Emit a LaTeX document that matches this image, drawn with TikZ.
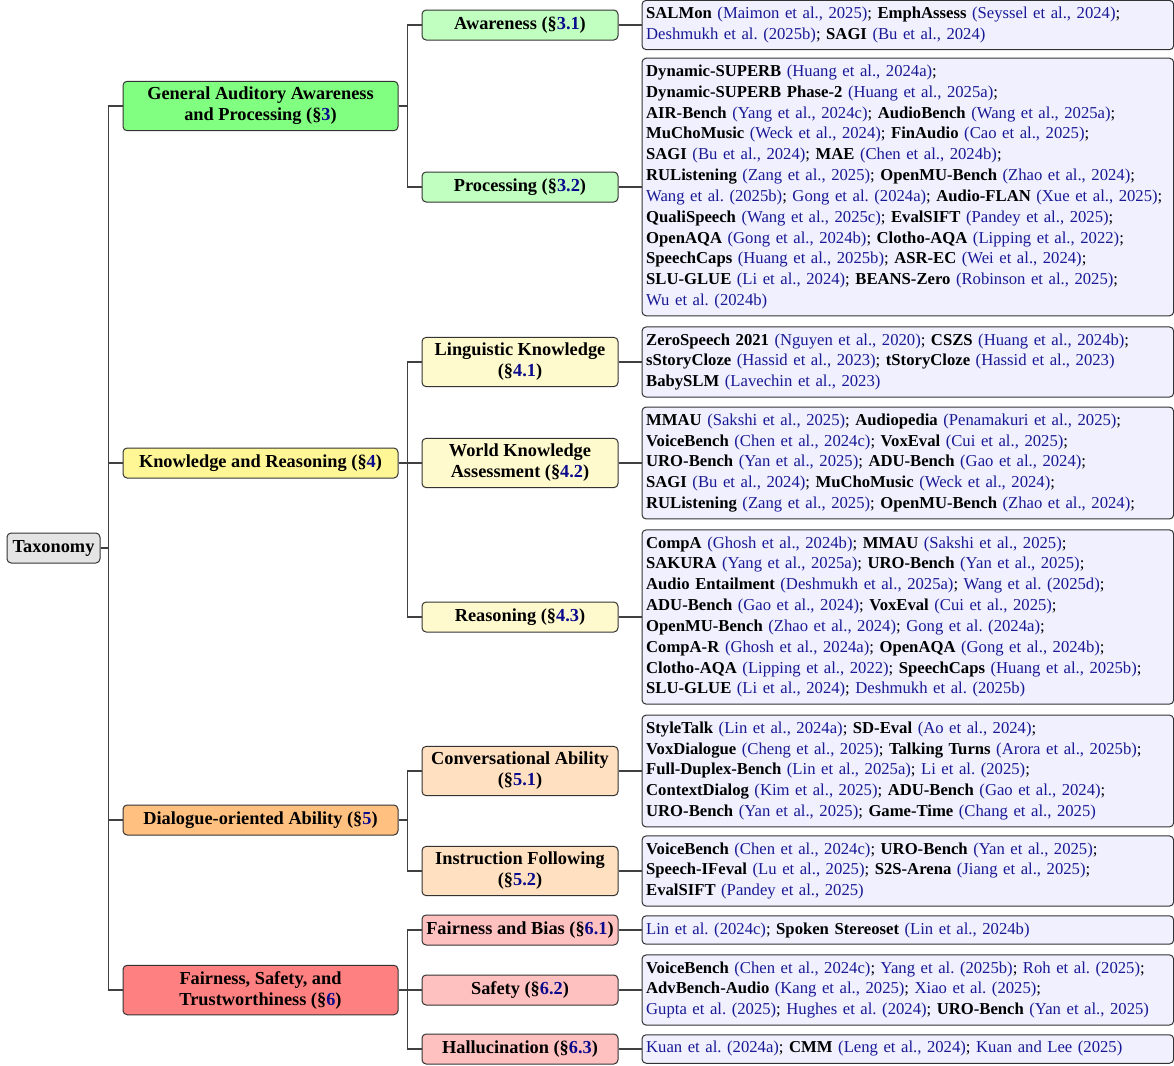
\documentclass[tikz,border=0pt]{standalone}
\usepackage{fontspec}
\setmainfont{Liberation Serif}

\definecolor{citeblue}{RGB}{25,25,150}
\definecolor{secblue}{RGB}{10,10,140}
\definecolor{rootgray}{RGB}{228,228,228}
\definecolor{greenA}{RGB}{128,255,128}
\definecolor{greenB}{RGB}{192,255,192}
\definecolor{yellowA}{RGB}{255,246,150}
\definecolor{yellowB}{RGB}{255,250,205}
\definecolor{orangeA}{RGB}{255,192,128}
\definecolor{orangeB}{RGB}{255,224,192}
\definecolor{redA}{RGB}{255,128,128}
\definecolor{redB}{RGB}{255,192,192}
\definecolor{leafbg}{RGB}{240,240,255}

\newcommand{\bench}[1]{\textbf{#1}}
\newcommand{\cit}[1]{\textcolor{citeblue}{#1}}
\newcommand{\secnum}[1]{(\S\textcolor{secblue}{#1})}
\frenchspacing

\begin{document}
\begin{tikzpicture}[x=0.6pt, y=-0.6pt,
  box/.style={draw=black!80, rounded corners=2.5pt, line width=0.6pt, align=center,
    font=\fontsize{11}{12.6}\selectfont\bfseries, inner xsep=2pt, inner ysep=3.5pt},
  root/.style={box, fill=rootgray, minimum width=55.8pt, minimum height=18pt},
  cat/.style={box, minimum width=165pt, minimum height=18pt},
  sub/.style={box, minimum width=117.6pt, minimum height=18pt},
  leaf/.style={draw=black!80, rounded corners=2.5pt, line width=0.6pt, fill=leafbg,
    anchor=west, text width=314pt, align=left, font=\fontsize{10}{12.5}\selectfont,
    inner xsep=2.5pt, inner ysep=4pt},
  link/.style={draw=black!75, line width=0.8pt}]
\useasboundingbox (0,0) rectangle (1174,1066);

\path (53.5,548) node[root] (tax) {Taxonomy}
      (260.5,106) node[cat, fill=greenA] (gen) {General Auditory Awareness\\and Processing \secnum{3}}
      (260.5,463) node[cat, fill=yellowA] (knw) {Knowledge and Reasoning \secnum{4}}
      (260.5,820) node[cat, fill=orangeA] (dia) {Dialogue-oriented Ability \secnum{5}}
      (260.5,990) node[cat, fill=redA] (fsf) {Fairness, Safety, and\\Trustworthiness \secnum{6}}

      (520,25) node[sub, fill=greenB] (aw) {Awareness \secnum{3.1}}
      (520,187) node[sub, fill=greenB] (pr) {Processing \secnum{3.2}}
      (520,362) node[sub, fill=yellowB] (lk) {Linguistic Knowledge\\\secnum{4.1}}
      (520,463) node[sub, fill=yellowB] (wk) {World Knowledge\\Assessment \secnum{4.2}}
      (520,617) node[sub, fill=yellowB] (rs) {Reasoning \secnum{4.3}}
      (520,771) node[sub, fill=orangeB] (ca) {Conversational Ability\\\secnum{5.1}}
      (520,871) node[sub, fill=orangeB] (ifo) {Instruction Following\\\secnum{5.2}}
      (520,930) node[sub, fill=redB] (fb) {Fairness and Bias \secnum{6.1}}
      (520,990) node[sub, fill=redB] (sf) {Safety \secnum{6.2}}
      (520,1049) node[sub, fill=redB] (hl) {Hallucination \secnum{6.3}};

\path (641.5,25) node[leaf] (l-aw) {\bench{SALMon} \cit{(Maimon et al., 2025)}; \bench{EmphAssess} \cit{(Seyssel et al., 2024)};\\
\cit{Deshmukh et al. (2025b)}; \bench{SAGI} \cit{(Bu et al., 2024)}}
      (641.5,187) node[leaf] (l-pr) {\bench{Dynamic-SUPERB} \cit{(Huang et al., 2024a)};\\
\bench{Dynamic-SUPERB Phase-2} \cit{(Huang et al., 2025a)};\\
\bench{AIR-Bench} \cit{(Yang et al., 2024c)}; \bench{AudioBench} \cit{(Wang et al., 2025a)};\\
\bench{MuChoMusic} \cit{(Weck et al., 2024)}; \bench{FinAudio} \cit{(Cao et al., 2025)};\\
\bench{SAGI} \cit{(Bu et al., 2024)}; \bench{MAE} \cit{(Chen et al., 2024b)};\\
\bench{RUListening} \cit{(Zang et al., 2025)}; \bench{OpenMU-Bench} \cit{(Zhao et al., 2024)};\\
\cit{Wang et al. (2025b)}; \cit{Gong et al. (2024a)}; \bench{Audio-FLAN} \cit{(Xue et al., 2025)};\\
\bench{QualiSpeech} \cit{(Wang et al., 2025c)}; \bench{EvalSIFT} \cit{(Pandey et al., 2025)};\\
\bench{OpenAQA} \cit{(Gong et al., 2024b)}; \bench{Clotho-AQA} \cit{(Lipping et al., 2022)};\\
\bench{SpeechCaps} \cit{(Huang et al., 2025b)}; \bench{ASR-EC} \cit{(Wei et al., 2024)};\\
\bench{SLU-GLUE} \cit{(Li et al., 2024)}; \bench{BEANS-Zero} \cit{(Robinson et al., 2025)};\\
\cit{Wu et al. (2024b)}}
      (641.5,362) node[leaf] (l-lk) {\bench{ZeroSpeech 2021} \cit{(Nguyen et al., 2020)}; \bench{CSZS} \cit{(Huang et al., 2024b)};\\
\bench{sStoryCloze} \cit{(Hassid et al., 2023)}; \bench{tStoryCloze} \cit{(Hassid et al., 2023)}\\
\bench{BabySLM} \cit{(Lavechin et al., 2023)}}
      (641.5,463) node[leaf] (l-wk) {\bench{MMAU} \cit{(Sakshi et al., 2025)}; \bench{Audiopedia} \cit{(Penamakuri et al., 2025)};\\
\bench{VoiceBench} \cit{(Chen et al., 2024c)}; \bench{VoxEval} \cit{(Cui et al., 2025)};\\
\bench{URO-Bench} \cit{(Yan et al., 2025)}; \bench{ADU-Bench} \cit{(Gao et al., 2024)};\\
\bench{SAGI} \cit{(Bu et al., 2024)}; \bench{MuChoMusic} \cit{(Weck et al., 2024)};\\
\bench{RUListening} \cit{(Zang et al., 2025)}; \bench{OpenMU-Bench} \cit{(Zhao et al., 2024)};}
      (641.5,617) node[leaf] (l-rs) {\bench{CompA} \cit{(Ghosh et al., 2024b)}; \bench{MMAU} \cit{(Sakshi et al., 2025)};\\
\bench{SAKURA} \cit{(Yang et al., 2025a)}; \bench{URO-Bench} \cit{(Yan et al., 2025)};\\
\bench{Audio Entailment} \cit{(Deshmukh et al., 2025a)}; \cit{Wang et al. (2025d)};\\
\bench{ADU-Bench} \cit{(Gao et al., 2024)}; \bench{VoxEval} \cit{(Cui et al., 2025)};\\
\bench{OpenMU-Bench} \cit{(Zhao et al., 2024)}; \cit{Gong et al. (2024a)};\\
\bench{CompA-R} \cit{(Ghosh et al., 2024a)}; \bench{OpenAQA} \cit{(Gong et al., 2024b)};\\
\bench{Clotho-AQA} \cit{(Lipping et al., 2022)}; \bench{SpeechCaps} \cit{(Huang et al., 2025b)};\\
\bench{SLU-GLUE} \cit{(Li et al., 2024)}; \cit{Deshmukh et al. (2025b)}}
      (641.5,771) node[leaf] (l-ca) {\bench{StyleTalk} \cit{(Lin et al., 2024a)}; \bench{SD-Eval} \cit{(Ao et al., 2024)};\\
\bench{VoxDialogue} \cit{(Cheng et al., 2025)}; \bench{Talking Turns} \cit{(Arora et al., 2025b)};\\
\bench{Full-Duplex-Bench} \cit{(Lin et al., 2025a)}; \cit{Li et al. (2025)};\\
\bench{ContextDialog} \cit{(Kim et al., 2025)}; \bench{ADU-Bench} \cit{(Gao et al., 2024)};\\
\bench{URO-Bench} \cit{(Yan et al., 2025)}; \bench{Game-Time} \cit{(Chang et al., 2025)}}
      (641.5,871) node[leaf] (l-ifo) {\bench{VoiceBench} \cit{(Chen et al., 2024c)}; \bench{URO-Bench} \cit{(Yan et al., 2025)};\\
\bench{Speech-IFeval} \cit{(Lu et al., 2025)}; \bench{S2S-Arena} \cit{(Jiang et al., 2025)};\\
\bench{EvalSIFT} \cit{(Pandey et al., 2025)}}
      (641.5,930) node[leaf] (l-fb) {\cit{Lin et al. (2024c)}; \bench{Spoken Stereoset} \cit{(Lin et al., 2024b)}}
      (641.5,990) node[leaf] (l-sf) {\bench{VoiceBench} \cit{(Chen et al., 2024c)}; \cit{Yang et al. (2025b)}; \cit{Roh et al. (2025)};\\
\bench{AdvBench-Audio} \cit{(Kang et al., 2025)}; \cit{Xiao et al. (2025)};\\
\cit{Gupta et al. (2025)}; \cit{Hughes et al. (2024)}; \bench{URO-Bench} \cit{(Yan et al., 2025)}}
      (641.5,1049) node[leaf] (l-hl) {\cit{Kuan et al. (2024a)}; \bench{CMM} \cit{(Leng et al., 2024)}; \cit{Kuan and Lee (2025)}};

\foreach \c in {gen, knw, dia, fsf}
  \draw[link] (tax.east) -- ++(8,0) |- (\c.west);
\foreach \p/\c in {gen/aw, gen/pr, knw/lk, knw/wk, knw/rs, dia/ca, dia/ifo, fsf/fb, fsf/sf, fsf/hl}
  \draw[link] (\p.east) -- ++(9,0) |- (\c.west);
\foreach \c in {aw, pr, lk, wk, rs, ca, ifo, fb, sf, hl}
  \draw[link] (\c.east) -- (l-\c.west);

\end{tikzpicture}
\end{document}
